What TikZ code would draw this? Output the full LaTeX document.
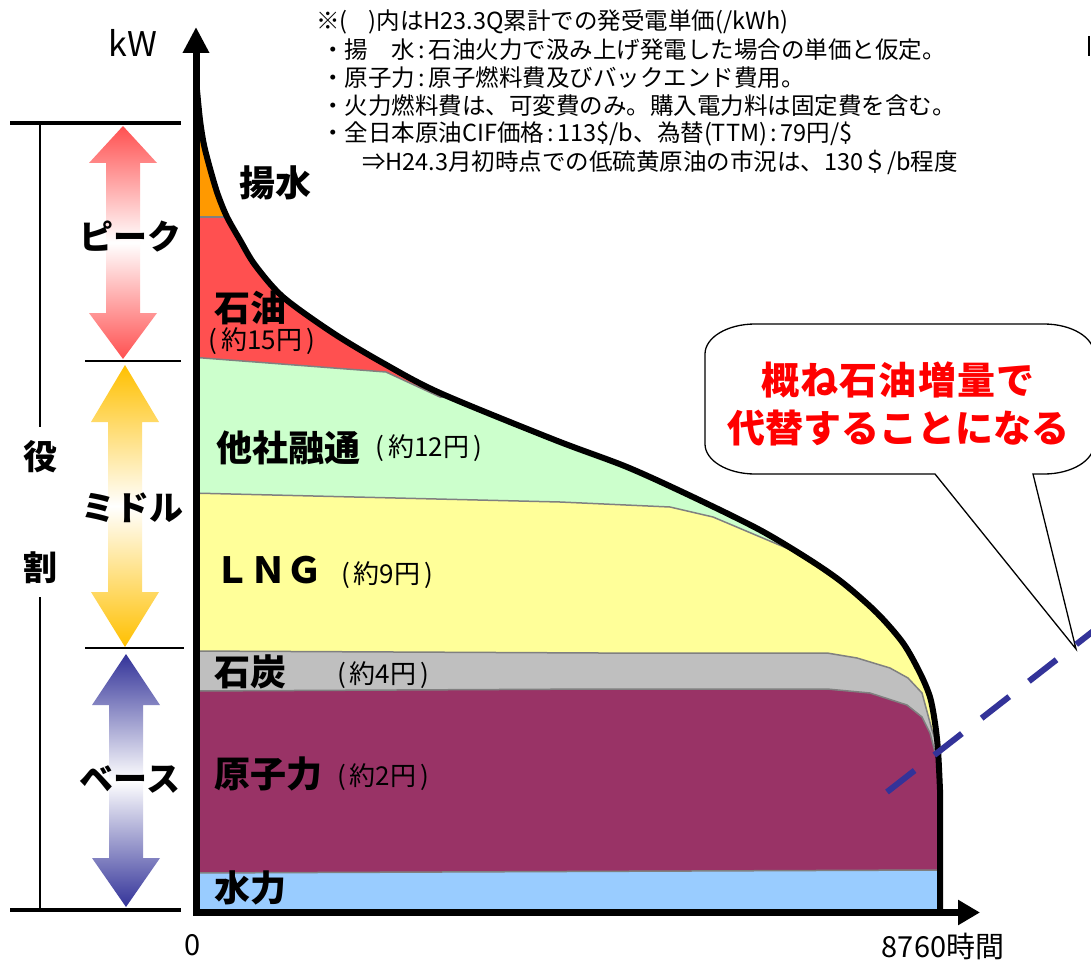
\documentclass[tikz,border=0pt]{standalone}
\usepackage{fontspec}
\setmainfont{Noto Sans CJK JP}
\usetikzlibrary{arrows.meta}
\definecolor{cOrange}{HTML}{FF9900}
\definecolor{cRed}{HTML}{FF5050}
\definecolor{cGreen}{HTML}{CCFFCC}
\definecolor{cYellow}{HTML}{FFFF99}
\definecolor{cGray}{HTML}{BFBFBF}
\definecolor{cPurple}{HTML}{993366}
\definecolor{cBlue}{HTML}{99CCFF}
\definecolor{cBnd}{HTML}{808080}
\definecolor{cDash}{HTML}{333399}
\definecolor{cPeak}{HTML}{FF5050}
\definecolor{cMid}{HTML}{FFC000}
\definecolor{cBase}{HTML}{333399}
\newcommand\myfs[1]{\fontsize{#1}{#1}\selectfont}
\newcommand\cln{\hspace{0.15em}:\hspace{0.15em}}
\newcommand\dblarrow[6]{%
  \pgfmathsetmacro\ymid{(#2+#5)/2}%
  \shade[top color=#6, bottom color=white] (#1,#2) -- (#1+34,#3) -- (#1+17,#3) -- (#1+17,\ymid) -- (#1-17,\ymid) -- (#1-17,#3) -- (#1-34,#3) -- cycle;
  \shade[top color=white, bottom color=#6] (#1,#5) -- (#1+34,#4) -- (#1+17,#4) -- (#1+17,\ymid) -- (#1-17,\ymid) -- (#1-17,#4) -- (#1-34,#4) -- cycle;
}
\begin{document}
\begin{tikzpicture}[x=1pt,y=-1pt,
  lbl/.style={inner sep=0, font=\bfseries\myfs{36}},
  role/.style={inner sep=0, font=\bfseries\myfs{34}},
  sub/.style={inner sep=0, font=\myfs{26}},
  note/.style={inner sep=0, anchor=west, font=\myfs{23.5}},
  bnd/.style={draw=cBnd, line width=1.5},
  axis/.style={line width=7},
  thick rule/.style={line width=3.2},
  thin rule/.style={line width=1.4}]
\useasboundingbox (0,0) rectangle (1091,960);
\fill[white] (0,0) rectangle (1091,960);

% ---- stacked areas under the load curve
\begin{scope}
\clip plot[smooth,tension=0.5] coordinates {(197,90) (200,120) (204,145) (211,172) (218,195) (227,217) (240,240) (255,265) (283,297) (333,333) (383,363) (440,393) (555,440) (627,467) (693,497) (760,530) (810,560) (843,583) (877,613) (903,643) (920,673) (930,697) (935,723) (938,750) (940,790)} -- (940,912) -- (197,912) -- cycle;
\fill[cOrange] (190,80) rectangle (1000,920);
\fill[cRed] (190,217) rectangle (1000,920);
\fill[cGreen] (190,357) -- (386,372) -- (440,397) -- (480,400) -- (1000,400) -- (1000,920) -- (190,920) -- cycle;
\fill[cYellow] (190,493) -- (560,502) -- (670,507) -- (713,517) -- (810,558) -- (830,558) -- (1000,558) -- (1000,920) -- (190,920) -- cycle;
\fill[cGray] (190,651) -- (600,653) -- (827,653) -- (857,658) -- (890,668) -- (908,678) -- (922,693) -- (932,730) -- (937,745) -- (1000,748) -- (1000,920) -- (190,920) -- cycle;
\fill[cPurple] (190,691) -- (600,689) -- (827,689) -- (870,693) -- (907,705) -- (922,717) -- (930,733) -- (935,752) -- (1000,755) -- (1000,920) -- (190,920) -- cycle;
\fill[cBlue] (190,873) -- (938,870) -- (1000,870) -- (1000,920) -- (190,920) -- cycle;
\draw[bnd] (190,217) -- (300,217);
\draw[bnd] (190,357) -- (386,372) -- (440,397) -- (480,400);
\draw[bnd] (190,493) -- (560,502) -- (670,507) -- (713,517) -- (810,558) -- (830,558);
\draw[bnd] (190,651) -- (600,653) -- (827,653) -- (857,658) -- (890,668) -- (908,678) -- (922,693) -- (932,730) -- (937,745);
\draw[bnd] (190,691) -- (600,689) -- (827,689) -- (870,693) -- (907,705) -- (922,717) -- (930,733) -- (935,752);
\draw[bnd] (190,873) -- (938,870);
\end{scope}

% ---- load curve
\draw[line width=6, line join=round] plot[smooth,tension=0.5] coordinates {(197,90) (200,120) (204,145) (211,172) (218,195) (227,217) (240,240) (255,265) (283,297) (333,333) (383,363) (440,393) (555,440) (627,467) (693,497) (760,530) (810,560) (843,583) (877,613) (903,643) (920,673) (930,697) (935,723) (938,750) (940,790)} -- (940,910);

% ---- axes
\coordinate (O) at (196,912);
\coordinate (Ytip) at (196,27);
\coordinate (Xstart) at (193,912.5);
\coordinate (Xtip) at (980,912.5);
\draw[axis, -{Triangle[length=26pt,width=25pt]}] (O) -- (Ytip);
\draw[axis, -{Triangle[length=22pt,width=24pt]}] (Xstart) -- (Xtip);
\node[inner sep=0, font=\myfs{34}] (kw) at (133,43) {kW};
\node[inner sep=0, font=\myfs{29}] (zero) at (193,945) {0};
\node[inner sep=0, font=\myfs{29}] (hours) at (943,946) {8760時間};

% ---- left role bracket
\coordinate (t1) at (10,123); \coordinate (t2) at (181,123);
\coordinate (b1) at (10,910); \coordinate (b2) at (181,910);
\coordinate (m1) at (85,361); \coordinate (m2) at (181,361);
\coordinate (n1) at (85,648); \coordinate (n2) at (184,648);
\draw[thick rule] (t1) -- (t2);
\draw[thick rule] (b1) -- (b2);
\draw[thin rule] (m1) -- (m2);
\draw[thin rule] (n1) -- (n2);
\node[role] (yaku) at (40,457) {役};
\node[role] (wari) at (40,568) {割};
\coordinate (v1) at (40,123); \coordinate (v2) at (40,427);
\coordinate (v3) at (40,597); \coordinate (v4) at (40,910);
\draw[thin rule] (v1) -- (v2);
\draw[thin rule] (v3) -- (v4);

% ---- double arrows
\dblarrow{123}{126}{163}{313}{359}{cPeak}
\dblarrow{125}{365}{422}{592}{647}{cMid}
\dblarrow{126}{654}{705}{858}{907}{cBase}
\node[role] (peak) at (130,237) {ピーク};
\node[role] (middle) at (132,508) {ミドル};
\node[role] (base) at (130,780) {ベース};

% ---- region labels
\node[lbl] (yosui) at (275,183) {揚水};
\node[lbl] (oil) at (250,308) {石油};
\node[sub] (oilp) at (262,341) {(\hspace{0.15em}約15円\hspace{0.15em})};
\node[lbl] (inter) at (288,448) {他社融通};
\node[sub] (interp) at (429,448) {(\hspace{0.15em}約12円\hspace{0.15em})};
\node[lbl] (lng) at (268,570) {ＬＮＧ};
\node[sub] (lngp) at (387,575) {(\hspace{0.15em}約9円\hspace{0.15em})};
\node[lbl] (coal) at (250,672) {石炭};
\node[sub] (coalp) at (383,675) {(\hspace{0.15em}約4円\hspace{0.15em})};
\node[lbl] (nuc) at (268,774) {原子力};
\node[sub] (nucp) at (383,777) {(\hspace{0.15em}約2円\hspace{0.15em})};
\node[lbl] (hydro) at (250,888) {水力};

% ---- notes
\node[note] (n1t) at (316,22) {※(\hspace{0.9em})内はH23.3Q累計での発受電単価(/kWh)};
\node[note] (n2t) at (321,50) {・揚　水\cln 石油火力で汲み上げ発電した場合の単価と仮定。};
\node[note] (n3t) at (321,78) {・原子力\cln 原子燃料費及びバックエンド費用。};
\node[note] (n4t) at (321,106) {・火力燃料費は、可変費のみ。購入電力料は固定費を含む。};
\node[note] (n5t) at (321,134) {・全日本原油CIF価格\cln 113\$/b、為替(TTM)\cln 79円/\$};
\node[note] (n6t) at (362,162) {⇒H24.3月初時点での低硫黄原油の市況は、130＄/b程度};
\coordinate (cut1) at (1089,36); \coordinate (cut2) at (1089,56);
\draw[line width=2] (cut1) -- (cut2);

% ---- callout
\coordinate (tip) at (1076,649);
\draw[line width=1.3, fill=white] (755,324) -- (1044,324)
  arc[start angle=-90, end angle=0, x radius=50, y radius=30] -- (1094,444)
  arc[start angle=0, end angle=90, x radius=50, y radius=30] -- (1033,474) -- (tip) -- (935,474) -- (755,474)
  arc[start angle=90, end angle=180, x radius=50, y radius=30] -- (705,354)
  arc[start angle=180, end angle=270, x radius=50, y radius=30] -- cycle;
\node[inner sep=0, align=center, text=red, font=\bfseries\fontsize{38}{48}\selectfont] (callout) at (898,404) {\addfontfeature{LetterSpace=3}概ね石油増量で\\代替することになる};

% ---- dashed line
\coordinate (d1) at (887,792);
\coordinate (d2) at (1110,618);
\draw[cDash, line width=6, dash pattern=on 35pt off 25pt] (d1) -- (d2);
\end{tikzpicture}
\end{document}
